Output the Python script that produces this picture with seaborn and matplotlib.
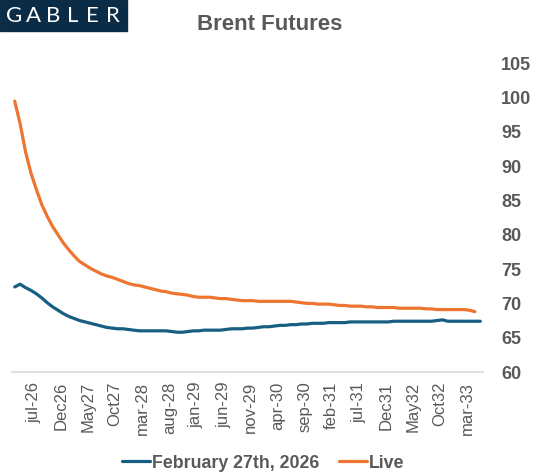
import pandas as pd
import matplotlib.pyplot as plt
import seaborn as sns
from matplotlib.patches import Rectangle

# Brent futures curve, one value per monthly contract (Apr-26 onwards)
feb27_curve = [
    72.4, 72.8, 72.3, 71.9, 71.4, 70.8, 70.1, 69.5, 69.0, 68.5,
    68.1, 67.8, 67.5, 67.3, 67.1, 66.9, 66.7, 66.5, 66.4, 66.3,
    66.3, 66.2, 66.1, 66.0, 66.0, 66.0, 66.0, 66.0, 66.0, 65.9,
    65.8, 65.8, 65.9, 66.0, 66.0, 66.1, 66.1, 66.1, 66.1, 66.2,
    66.3, 66.3, 66.3, 66.4, 66.4, 66.5, 66.6, 66.6, 66.7, 66.8,
    66.8, 66.9, 66.9, 67.0, 67.0, 67.1, 67.1, 67.1, 67.2, 67.2,
    67.2, 67.2, 67.3, 67.3, 67.3, 67.3, 67.3, 67.3, 67.3, 67.3,
    67.4, 67.4, 67.4, 67.4, 67.4, 67.4, 67.4, 67.4, 67.5, 67.6,
    67.4, 67.4, 67.4, 67.4, 67.4, 67.4, 67.4,
]
live_curve = [
    99.5, 96.2, 92.1, 89.0, 86.6, 84.4, 82.7, 81.2, 80.0, 78.8,
    77.8, 76.9, 76.1, 75.6, 75.1, 74.7, 74.3, 74.0, 73.8, 73.5,
    73.2, 72.9, 72.7, 72.6, 72.4, 72.2, 72.0, 71.8, 71.7, 71.5,
    71.4, 71.3, 71.2, 71.0, 70.9, 70.9, 70.9, 70.8, 70.7, 70.7,
    70.6, 70.5, 70.4, 70.4, 70.4, 70.3, 70.3, 70.3, 70.3, 70.3,
    70.3, 70.3, 70.2, 70.1, 70.0, 70.0, 69.9, 69.9, 69.9, 69.8,
    69.7, 69.7, 69.6, 69.6, 69.6, 69.5, 69.5, 69.4, 69.4, 69.4,
    69.4, 69.3, 69.3, 69.3, 69.3, 69.3, 69.2, 69.2, 69.1, 69.1,
    69.1, 69.1, 69.1, 69.1, 69.0, 68.8,
]
series_names = ["February 27th, 2026", "Live"]
tick_labels = [
    "jul-26", "Dec26", "May27", "Oct27", "mar-28", "aug-28", "jan-29",
    "jun-29", "nov-29", "apr-30", "sep-30", "feb-31", "jul-31", "Dec31",
    "May32", "Oct32", "mar-33",
]
y_ticks = [60, 65, 70, 75, 80, 85, 90, 95, 100, 105]

BLUE = "#175E82"
ORANGE = "#ED7530"
GREY = "#595959"

frames = []
for name, vals in zip(series_names, [feb27_curve, live_curve]):
    frames.append(pd.DataFrame({"idx": range(len(vals)), "price": vals, "series": name}))
df = pd.concat(frames, ignore_index=True)

sns.set_theme(style="white")
plt.rcParams["font.family"] = ["Liberation Sans", "DejaVu Sans"]

fig = plt.figure(figsize=(5.38, 4.75), dpi=100)
ax = fig.add_axes([12 / 538, 103 / 475, 471 / 538, 308.7 / 475])

sns.lineplot(data=df, x="idx", y="price", hue="series", palette=[BLUE, ORANGE],
             linewidth=2.3, ax=ax, legend=False)

n_cat = len(feb27_curve)
ax.set_xlim(-0.5, n_cat - 0.5)
ax.set_ylim(60, 105)
# labels sit a little right of the category centre, as in the Excel original
ax.set_xticks([i + 0.55 for i in range(3, n_cat, 5)])
ax.set_xticklabels(tick_labels, rotation=90, color=GREY, fontsize=12)
ax.set_yticks(y_ticks)
ax.yaxis.tick_right()
ax.set_yticklabels([str(t) for t in y_ticks], color=GREY, fontsize=13,
                   fontweight="bold", ha="left")
ax.tick_params(axis="y", length=0, pad=13)
ax.tick_params(axis="x", length=0, pad=7)
ax.set_xlabel("")
ax.set_ylabel("")
for side in ["top", "left", "right"]:
    ax.spines[side].set_visible(False)
ax.spines["bottom"].set_color("#D9D9D9")
ax.spines["bottom"].set_linewidth(1.2)

fig.text(270 / 538, 1 - 25 / 475, "Brent Futures", ha="center", va="center",
         fontsize=16, fontweight="bold", color=GREY)

# logo block top-left
fig.patches.append(Rectangle((0, 1 - 31 / 475), 127 / 538, 31 / 475,
                             transform=fig.transFigure, color="#0B2C47", zorder=0))
for i, ch in enumerate("GABLER"):
    fig.text((14 + i * 19.7) / 538, 1 - 15.5 / 475, ch, ha="center", va="center",
             fontsize=16, color="white", family=["Lato", "DejaVu Sans"])

handles = [plt.Line2D([], [], color=c, linewidth=2.3) for c in [BLUE, ORANGE]]
fig.legend(handles, series_names, loc="center", bbox_to_anchor=(263 / 538, 1 - 463 / 475),
           ncol=2, frameon=False, handlelength=1.6, handletextpad=0.1, columnspacing=1.1,
           prop={"weight": "bold", "size": 12.8}, labelcolor=GREY)

fig.savefig("out.png", dpi=100)
